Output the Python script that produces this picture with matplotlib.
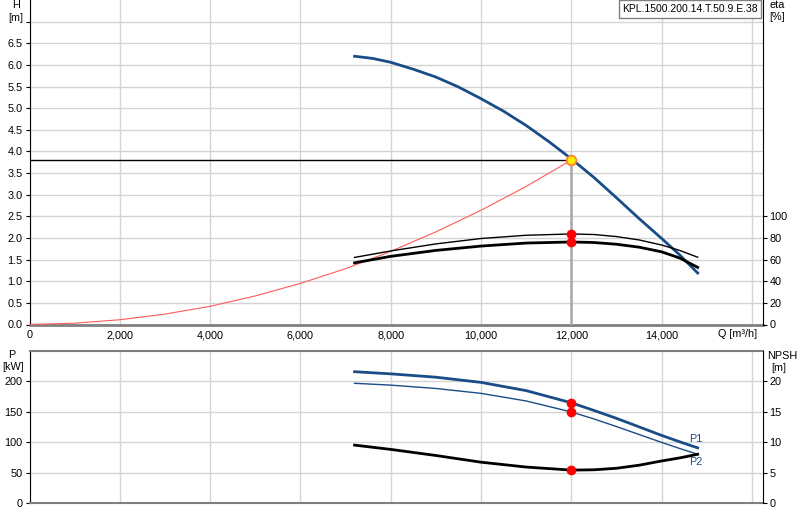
import numpy as np
import matplotlib
matplotlib.use("Agg")
import matplotlib.pyplot as plt

plt.rcParams["font.family"] = ["Liberation Sans", "DejaVu Sans"]

# Pump curve H(Q)
q_h = [7200, 7600, 8000, 8500, 9000, 9500, 10000, 10500, 11000, 11500,
       12000, 12500, 13000, 13500, 14000, 14400, 14800]
h_vals = [6.20, 6.15, 6.06, 5.90, 5.72, 5.49, 5.22, 4.93, 4.60, 4.23,
          3.83, 3.40, 2.93, 2.45, 1.99, 1.61, 1.19]

# System curve
q_sys = [0, 1000, 2000, 3000, 4000, 5000, 6000, 7000, 8000, 9000,
         10000, 11000, 12000]
h_sys = [0.0, 0.03, 0.11, 0.24, 0.42, 0.66, 0.95, 1.29, 1.69, 2.14,
         2.64, 3.19, 3.80]

# Efficiency curves [%]
q_eta = [7200, 8000, 9000, 10000, 11000, 12000, 12500, 13000, 13500,
         14000, 14400, 14800]
eta_upper = [62, 68, 74.5, 79.5, 82.5, 83.7, 83.2, 81.3, 78.2, 73.5, 68.5, 62.2]
eta_lower = [57, 63, 68.5, 72.5, 75.3, 76.3, 75.8, 74.2, 71.5, 67.2, 61.5, 52.8]

# Power and NPSH
q_p = [7200, 8000, 9000, 10000, 11000, 12000, 12500, 13000, 13500, 14000,
       14400, 14800]
p1_vals = [215.5, 212, 206.5, 198, 184.5, 164.5, 152, 139, 125, 111, 100.5, 90.5]
p2_vals = [196.5, 193.5, 188, 180, 167.5, 149.5, 138, 125.5, 112.5, 99.5, 89.5, 80]
npsh_vals = [9.5, 8.8, 7.8, 6.7, 5.9, 5.4, 5.45, 5.7, 6.2, 6.9, 7.4, 8.0]

# Duty point
q_duty = 12000
h_duty = 3.8
eta_duty = [83.7, 76.3]
p_duty = [164.5, 149.5]
npsh_duty = 5.4

model_name = "KPL.1500.200.14.T.50.9.E.38"

x_ticks = [0, 2000, 4000, 6000, 8000, 10000, 12000, 14000]
x_max = 16240

blue = "#1a4d87"
grid_c = "#d4d4d4"
fs = 7.8

fig = plt.figure(figsize=(8, 5.2), dpi=100)
ax1 = fig.add_axes([29.5 / 800, 1 - 324.5 / 520, 733.2 / 800, 324.5 / 520])
ax2 = fig.add_axes([29.5 / 800, 1 - 503 / 520, 733.2 / 800, 152.3 / 520])


def style_axes(ax):
    ax.set_xlim(0, x_max)
    ax.set_xticks(np.arange(0, 16001, 2000))
    ax.grid(True, color=grid_c, linewidth=1)
    ax.set_axisbelow(True)
    ax.spines["left"].set_color("black")
    ax.spines["right"].set_visible(False)
    ax.tick_params(axis="y", labelsize=fs, length=3, pad=2, width=0.8)
    ax.tick_params(axis="x", length=0, labelsize=fs, pad=4)


# ---- top: head + efficiency ----
style_axes(ax1)
ax1.set_ylim(0, 7.5)
ax1.set_yticks(np.arange(0, 7.01, 0.5))
ax1.set_yticklabels([f"{v:.1f}" if v <= 6.5 else "" for v in np.arange(0, 7.01, 0.5)])
ax1.set_xticklabels([f"{v:,}" for v in x_ticks] + [""])
ax1.spines["top"].set_visible(False)
ax1.spines["bottom"].set_color("#808080")
ax1.spines["bottom"].set_linewidth(2)

ax1.plot(q_sys, h_sys, color="#ff5a5a", lw=0.8, zorder=3)
ax1.plot([0, q_duty], [h_duty, h_duty], color="black", lw=1, zorder=3)
ax1.plot([q_duty, q_duty], [0, h_duty], color="#a8a8a8", lw=1.8, zorder=3)
ax1.plot(q_h, h_vals, color=blue, lw=2, zorder=4)
ax1.plot(q_duty, h_duty, "o", ms=7, mfc="#ffee00", mec="#ff7a3a", mew=1.2, zorder=6)

ax1e = ax1.twinx()
ax1e.set_ylim(0, 300)
ax1e.set_yticks(np.arange(0, 101, 20))
ax1e.tick_params(axis="y", labelsize=fs, length=3, pad=2, width=0.8)
for s in ["top", "left", "bottom"]:
    ax1e.spines[s].set_visible(False)
ax1e.spines["right"].set_color("black")
ax1e.plot(q_eta, eta_upper, color="black", lw=1, zorder=4)
ax1e.plot(q_eta, eta_lower, color="black", lw=2, zorder=4)
ax1e.plot([q_duty] * 2, eta_duty, "o", color="red", ms=6, zorder=6)

fig.text(16 / 800, 1 - 5 / 520, "H", ha="center", va="center", fontsize=fs)
fig.text(16 / 800, 1 - 18 / 520, "[m]", ha="center", va="center", fontsize=fs)
fig.text(769 / 800, 1 - 5 / 520, "eta", ha="left", va="center", fontsize=fs)
fig.text(769 / 800, 1 - 17 / 520, "[%]", ha="left", va="center", fontsize=fs)
fig.text(757 / 800, 1 - 334 / 520, "Q [m³/h]", ha="right", va="center", fontsize=fs)
fig.text(690 / 800, 1 - 9 / 520, model_name, ha="center", va="center", fontsize=7.5,
         bbox=dict(boxstyle="square,pad=0.35", fc="white", ec="#808080", lw=1))

# ---- bottom: power + NPSH ----
style_axes(ax2)
ax2.set_ylim(0, 250)
ax2.set_yticks(np.arange(0, 201, 50))
ax2.set_xticklabels([])
for s in ["top", "bottom"]:
    ax2.spines[s].set_color("#808080")
    ax2.spines[s].set_linewidth(1.5)

ax2.plot(q_p, p1_vals, color=blue, lw=2, zorder=4)
ax2.plot(q_p, p2_vals, color=blue, lw=1, zorder=4)
ax2.plot([q_duty] * 2, p_duty, "o", color="red", ms=6, zorder=6)
ax2.text(14600, 105, "P1", color=blue, fontsize=fs, ha="left", va="center")
ax2.text(14600, 68, "P2", color=blue, fontsize=fs, ha="left", va="center")

ax2n = ax2.twinx()
ax2n.set_ylim(0, 25)
ax2n.set_yticks(np.arange(0, 21, 5))
ax2n.tick_params(axis="y", labelsize=fs, length=3, pad=2, width=0.8)
for s in ["top", "left", "bottom"]:
    ax2n.spines[s].set_visible(False)
ax2n.spines["right"].set_color("black")
ax2n.plot(q_p, npsh_vals, color="black", lw=2, zorder=4)
ax2n.plot(q_duty, npsh_duty, "o", color="red", ms=6, zorder=6)

fig.text(12 / 800, 1 - 355 / 520, "P", ha="center", va="center", fontsize=fs)
fig.text(13 / 800, 1 - 367 / 520, "[kW]", ha="center", va="center", fontsize=fs)
fig.text(767 / 800, 1 - 356 / 520, "NPSH", ha="left", va="center", fontsize=fs)
fig.text(771 / 800, 1 - 368 / 520, "[m]", ha="left", va="center", fontsize=fs)

fig.savefig("out.png", dpi=100)
